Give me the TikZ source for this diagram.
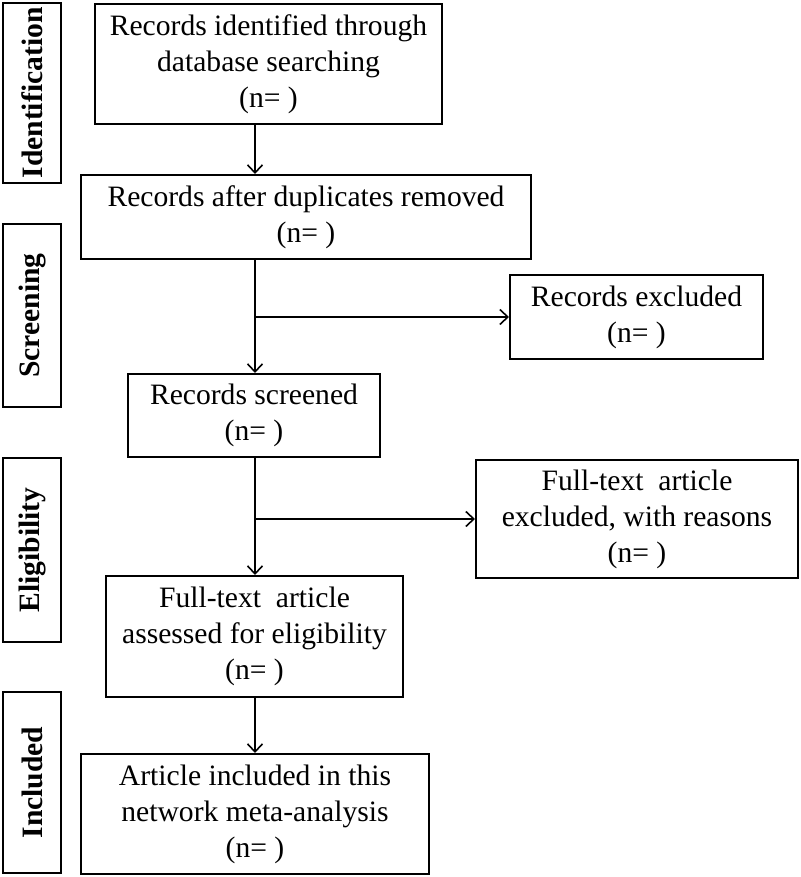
\documentclass[tikz,border=0pt]{standalone}
\usepackage{fontspec}
\setmainfont{Liberation Serif}
\usetikzlibrary{arrows.meta}
\begin{document}
\begin{tikzpicture}[x=1pt,y=-1pt,
  every node/.style={font=\fontsize{29.6}{36}\selectfont},
  box/.style={draw, line width=2pt, inner sep=0pt, align=center},
  side/.style={draw, line width=2pt, inner sep=0pt, rotate=90, minimum height=58pt, font=\fontsize{29.6}{36}\selectfont\bfseries},
  arr/.style={line width=1.8pt, -{Straight Barb[length=8pt,width=15pt,line width=1.6pt]}}]
\useasboundingbox (0,0) rectangle (800,877);
\node[side, minimum width=180pt] (id) at (32,93) {Identification};
\node[side, minimum width=183pt] (scr) at (32,315.5) {Screening};
\node[side, minimum width=184pt] (eli) at (32,550) {Eligibility};
\node[side, minimum width=181pt] (inc) at (32,782.5) {Included};
\node[box, minimum width=347pt, minimum height=120pt] (b1) at (268.5,64) {Records identified through\\database searching\\(n= )};
\node[box, minimum width=450pt, minimum height=84pt] (b2) at (306,217) {Records after duplicates removed\\(n= )};
\node[box, minimum width=253pt, minimum height=84pt] (ex1) at (636.5,317) {Records excluded\\(n= )};
\node[box, minimum width=252pt, minimum height=83pt] (b3) at (254,415.5) {Records screened\\(n= )};
\node[box, minimum width=322pt, minimum height=118pt] (ex2) at (637,519) {Full-text\ \ article\\excluded,\ with reasons\\(n= )};
\node[box, minimum width=297pt, minimum height=121pt] (b4) at (254.5,636.5) {Full-text\ \ article\\assessed for eligibility\\(n= )};
\node[box, minimum width=348pt, minimum height=120pt] (b5) at (255,814) {Article included in this\\network meta-analysis\\(n= )};
\coordinate (ax) at (255,0);
\draw[arr] (b1.south -| ax) -- (b2.north -| ax);
\draw[arr] (b2.south -| ax) -- (b3.north -| ax);
\draw[arr] (ax |- ex1.west) -- (ex1.west);
\draw[arr] (b3.south -| ax) -- (b4.north -| ax);
\draw[arr] (ax |- ex2.west) -- (ex2.west);
\draw[arr] (b4.south -| ax) -- (b5.north -| ax);
\end{tikzpicture}
\end{document}
